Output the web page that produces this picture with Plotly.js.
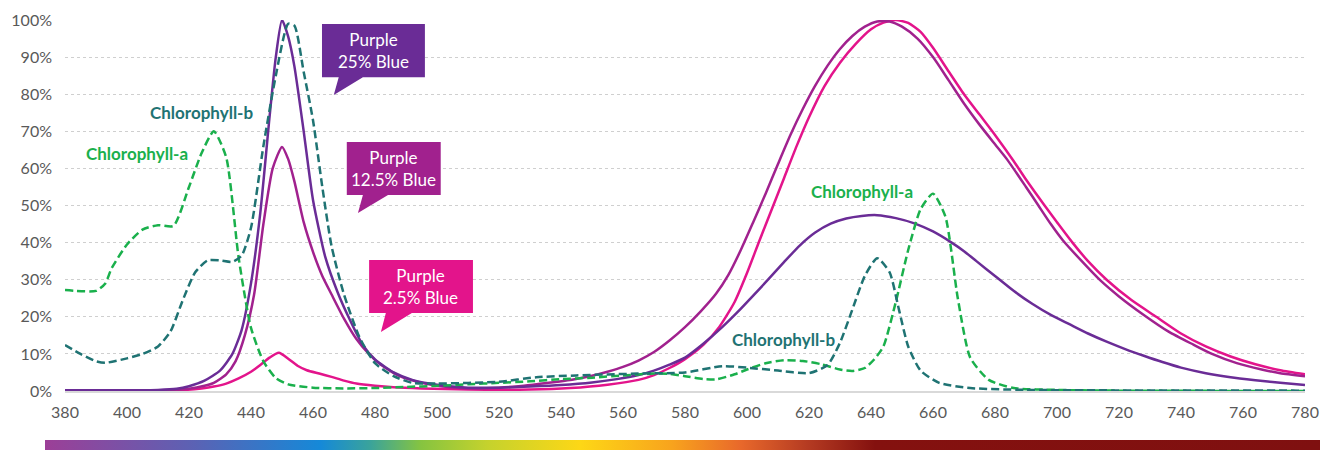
<!DOCTYPE html>
<html>
<head>
<meta charset="utf-8">
<script src="https://cdn.plot.ly/plotly-3.0.1.min.js"></script>
<style>html,body{margin:0;padding:0;background:#fff;}#chart{width:1320px;height:450px;}</style>
</head>
<body>
<div id="chart"></div>
<script>
// ---- Data (wavelength nm, relative intensity 0..1) ----
var chlA_nm = [380,390,393,395,400,405,410,415,420,424,428,432,436,440,444,448,452,460,470,480,490,500,510,520,530,540,550,560,570,575,580,586,590,596,600,606,612,618,624,630,634,638,641,644,648,652,656,660,664,668,672,678,686,700,720,780];
var chlA    = [0.272,0.270,0.29,0.33,0.395,0.435,0.447,0.445,0.55,0.64,0.70,0.63,0.36,0.17,0.08,0.035,0.018,0.009,0.007,0.008,0.011,0.014,0.018,0.022,0.026,0.032,0.036,0.042,0.047,0.046,0.04,0.032,0.031,0.045,0.058,0.075,0.083,0.081,0.072,0.058,0.054,0.062,0.085,0.12,0.24,0.38,0.49,0.532,0.47,0.25,0.09,0.03,0.008,0.003,0.001,0.0];

var chlB_nm = [380,385,390,393,400,405,410,414,418,422,426,430,434,437,440,444,448,452,454,457,460,463,466,470,475,480,486,492,500,520,532,545,565,580,592,600,610,620,626,630,634,638,642,646,649,652,656,662,672,690,780];
var chlB    = [0.124,0.10,0.08,0.076,0.088,0.10,0.12,0.16,0.245,0.32,0.352,0.352,0.348,0.365,0.44,0.66,0.85,0.99,0.985,0.86,0.73,0.55,0.39,0.26,0.145,0.075,0.04,0.022,0.02,0.025,0.037,0.042,0.047,0.05,0.067,0.063,0.055,0.048,0.07,0.13,0.22,0.31,0.358,0.32,0.22,0.12,0.055,0.022,0.008,0.003,0.001];

var p25_nm = [380,400,410,416,420,425,430,434,437,440,443,446,448,450,452,454,457,460,464,468,472,476,480,486,492,500,510,520,530,540,550,558,565,570,575,580,586,592,597,602,607,612,617,622,627,632,637,642,648,654,660,666,670,674,680,686,692,698,704,710,716,722,728,734,740,748,756,764,772,780];
var p25    = [0.002,0.002,0.003,0.006,0.013,0.028,0.055,0.10,0.165,0.29,0.48,0.74,0.90,1.0,0.955,0.875,0.70,0.515,0.36,0.265,0.19,0.125,0.085,0.05,0.03,0.017,0.009,0.009,0.012,0.016,0.023,0.032,0.043,0.055,0.071,0.09,0.128,0.172,0.213,0.257,0.302,0.348,0.392,0.427,0.451,0.465,0.472,0.474,0.466,0.452,0.43,0.40,0.377,0.35,0.31,0.27,0.235,0.205,0.18,0.155,0.133,0.113,0.095,0.078,0.063,0.048,0.037,0.029,0.022,0.016];

var p125_nm = [380,410,420,425,428,432,435,438,441,444,447,450,452,454,457,460,463,466,470,474,478,482,488,495,502,512,520,528,536,544,550,555,560,565,570,575,580,585,590,594,598,602,606,610,614,618,622,626,630,634,638,642,646,650,655,660,665,670,675,680,684,690,694,698,702,708,714,720,728,736,744,750,758,766,772,780];
var p125    = [0.001,0.001,0.006,0.014,0.022,0.045,0.08,0.15,0.26,0.45,0.60,0.658,0.625,0.565,0.455,0.375,0.31,0.26,0.195,0.14,0.10,0.07,0.04,0.022,0.012,0.007,0.009,0.014,0.022,0.031,0.041,0.052,0.065,0.082,0.105,0.136,0.172,0.214,0.262,0.313,0.38,0.455,0.532,0.612,0.69,0.76,0.823,0.877,0.922,0.957,0.982,0.996,0.996,0.982,0.95,0.90,0.838,0.775,0.718,0.665,0.623,0.55,0.50,0.45,0.405,0.35,0.298,0.255,0.205,0.16,0.125,0.10,0.075,0.058,0.048,0.04];

var p2_nm = [380,410,419,424,428,432,436,440,443,446,449,452,455,458,462,466,470,474,480,486,495,510,530,543,555,565,570,575,580,586,591,596,600,604,608,612,616,620,625,630,635,640,644,648,652,656,660,665,670,675,680,686,690,696,700,705,710,716,724,732,740,748,756,764,772,780];
var p2    = [0.0,0.001,0.003,0.007,0.012,0.02,0.034,0.052,0.07,0.09,0.103,0.087,0.068,0.056,0.047,0.038,0.028,0.02,0.014,0.01,0.007,0.004,0.004,0.008,0.017,0.03,0.043,0.062,0.086,0.125,0.172,0.24,0.318,0.405,0.49,0.575,0.66,0.738,0.822,0.885,0.935,0.975,0.993,1.0,0.992,0.968,0.925,0.862,0.80,0.745,0.69,0.62,0.57,0.50,0.455,0.40,0.35,0.30,0.245,0.20,0.155,0.12,0.093,0.072,0.056,0.045];

var xTicks = [380,400,420,440,460,480,500,520,540,560,580,600,620,640,660,680,700,720,740,760,780];
var yTicks = [0,0.1,0.2,0.3,0.4,0.5,0.6,0.7,0.8,0.9,1.0];
var yTickText = ['0%','10%','20%','30%','40%','50%','60%','70%','80%','90%','100%'];

var calloutLabels = ['Purple<br>25% Blue','Purple<br>12.5% Blue','Purple<br>2.5% Blue'];
var chlLabels = ['Chlorophyll-b','Chlorophyll-a','Chlorophyll-a','Chlorophyll-b'];

// ---- Styles ----
var C25 = '#6a2c96', C125 = '#a1218e', C2 = '#e3148b', CA = '#1ab04c', CB = '#1f7373';
var FONT = 'Lato, "Open Sans", sans-serif';

function solid(x, y, color) {
  return {x: x, y: y, type: 'scatter', mode: 'lines', hoverinfo: 'skip',
    line: {color: color, width: 2.5, shape: 'spline', smoothing: 0.6}};
}
function dashed(x, y, color) {
  return {x: x, y: y, type: 'scatter', mode: 'lines', hoverinfo: 'skip',
    line: {color: color, width: 2.5, dash: '8px,4px', shape: 'spline', smoothing: 0.6}};
}

var traces = [
  solid(p2_nm, p2, C2),
  solid(p125_nm, p125, C125),
  solid(p25_nm, p25, C25),
  dashed(chlA_nm, chlA, CA),
  dashed(chlB_nm, chlB, CB)
];

// Callout boxes with tail (data coordinates)
function bubble(x0, x1, yt, yb, tl, tr, tx, ty, color) {
  return {type: 'path', xref: 'x', yref: 'y', fillcolor: color, line: {width: 0}, layer: 'above',
    path: 'M' + x0 + ',' + yt + ' L' + x1 + ',' + yt + ' L' + x1 + ',' + yb + ' L' + tr + ',' + yb +
          ' L' + tx + ',' + ty + ' L' + tl + ',' + yb + ' L' + x0 + ',' + yb + ' Z'};
}
var shapes = [
  bubble(462.9, 496.1, 0.989, 0.846, 468.3, 476.1, 466.7, 0.798, C25),
  bubble(470.9, 501.2, 0.671, 0.528, 476.1, 484.2, 474.5, 0.480, C125),
  bubble(478.1, 511.6, 0.353, 0.210, 483.5, 491.9, 481.9, 0.159, C2)
];

var annotations = [
  {x: 479.5, y: 0.9175, text: calloutLabels[0]},
  {x: 486.1, y: 0.5995, text: calloutLabels[1]},
  {x: 494.8, y: 0.2815, text: calloutLabels[2]}
].map(function(a){
  return Object.assign(a, {xref:'x', yref:'y', showarrow:false, align:'center',
    font:{family: FONT, size: 17, color:'#ffffff'}});
});
annotations = annotations.concat([
  {x: 424.1, y: 0.750, text: chlLabels[0], color: CB},
  {x: 403.3, y: 0.6415, text: chlLabels[1], color: CA},
  {x: 637.0, y: 0.537, text: chlLabels[2], color: CA},
  {x: 611.8, y: 0.1375, text: chlLabels[3], color: CB}
].map(function(a){
  return {x: a.x, y: a.y, text: '<b>' + a.text + '</b>', xref:'x', yref:'y', showarrow:false,
    font:{family: FONT, size: 17, color: a.color}};
}));

// Spectrum bar as inline SVG gradient
var stops = [[0,'#9c3f97'],[0.117,'#5b62b4'],[0.216,'#1589d8'],[0.255,'#3aa39b'],[0.295,'#86c440'],[0.347,'#c5d22d'],[0.42,'#fdd716'],[0.492,'#f8a31d'],[0.546,'#e8682b'],[0.598,'#b53b22'],[0.651,'#84110f'],[1,'#7f1010']];
var svg = '<svg xmlns="http://www.w3.org/2000/svg" width="1275" height="10" viewBox="0 0 1275 10" preserveAspectRatio="none"><defs><linearGradient id="g" x1="0" y1="0" x2="1" y2="0">' +
  stops.map(function(s){return '<stop offset="' + s[0] + '" stop-color="' + s[1] + '"/>';}).join('') +
  '</linearGradient></defs><rect x="0" y="0" width="1275" height="10" fill="url(#g)"/></svg>';
var PW = 1240;
var images = [{
  source: 'data:image/svg+xml;charset=utf-8,' + encodeURIComponent(svg),
  xref: 'paper', yref: 'paper', x: -20/PW, y: (391-440)/371, sizex: 1275/PW, sizey: 10/371,
  xanchor: 'left', yanchor: 'top', sizing: 'stretch', layer: 'above'
}];

var layout = {
  width: 1320, height: 450,
  margin: {l: 65, r: 15, t: 20, b: 59},
  paper_bgcolor: '#ffffff', plot_bgcolor: '#ffffff',
  showlegend: false,
  font: {family: FONT, color: '#595959'},
  xaxis: {range: [380, 780], tickvals: xTicks, ticktext: xTicks.map(String), showgrid: false,
    zeroline: false, showline: true, linecolor: '#d9d9d9', linewidth: 1.5, ticks: '',
    ticklabeloverflow: 'allow', ticklabelstandoff: 6,
    tickfont: {family: FONT, size: 16, color: '#595959'}, fixedrange: true},
  yaxis: {range: [0, 1], tickvals: yTicks, ticktext: yTickText, showgrid: true,
    gridcolor: '#cfcfcf', griddash: 'dot', gridwidth: 1, zeroline: false, showline: false, ticks: '',
    ticklabelstandoff: 12, tickfont: {family: FONT, size: 16, color: '#595959'}, fixedrange: true},
  shapes: shapes,
  annotations: annotations,
  images: images
};

Plotly.newPlot('chart', traces, layout, {displayModeBar: false, staticPlot: true});
</script>
</body>
</html>
